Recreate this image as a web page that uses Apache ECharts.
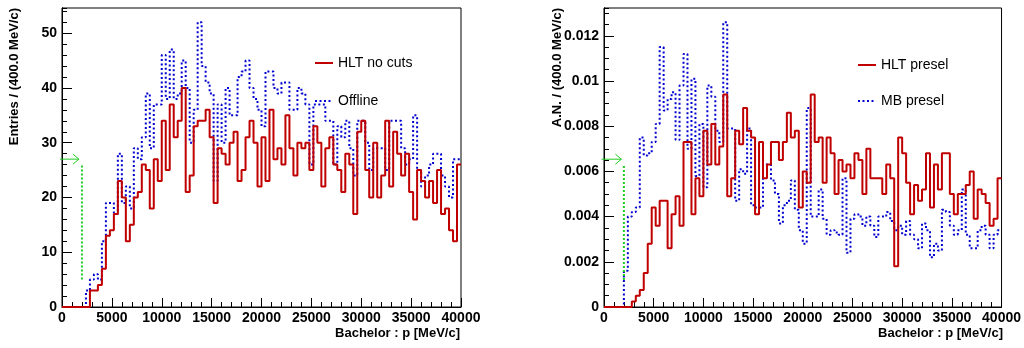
<!DOCTYPE html>
<html><head><meta charset="utf-8">
<script src="https://cdn.jsdelivr.net/npm/echarts@6/dist/echarts.min.js"></script>
<style>html,body{margin:0;padding:0;background:#fff}#c{width:1024px;height:348px}</style>
</head><body><div id="c"></div>
<script>
// ---- data (bin width 400 MeV/c, 100 bins from 0 to 40000) ----
const binWidth = 400;
const hltNoCuts = [0,0,0,0,0,0,0,3,3,4, 7,13,14,17,23,20,12,15,20,21, 26,25,18,27,23,34,25,37,31,34,
  40,21,24,33,34,34,36,31,19,29, 28,26,30,32,23,25,31,34,30,22, 31,23,36,27,29,26,35,29,24,30,
  29,30,25,33,30,22,29,31,26,25, 21,28,26,17,32,34,25,20,30,20, 24,34,22,32,28,24,28,21,16,25,
  23,20,23,19,25,17,18,14,12,26];
const offline = [0,0,0,0,0,0,3,5,6,5, 12,19,19,17,28,19,22,18,29,27, 31,39,29,37,37,46,38,47,38,39,
  45,40,30,36,52,44,41,39,23,37, 30,40,35,35,42,43,45,40,38,36, 33,43,43,40,39,41,41,36,36,40,
  39,37,26,37,37,37,34,34,26,33, 31,34,29,24,34,34,30,25,29,29, 29,25,34,34,34,29,26,27,35,25,
  22,24,26,28,28,24,22,20,27,27];
const hltPresel = [0,0,0,0,0,0,0,0.00024,0.0005,0.00075, 0.0015,0.0028,0.0044,0.0036,0.0047,0.0047,0.0026,0.0041,0.0049,0.0036,
  0.0073,0.0073,0.0041,0.0057,0.0049,0.0078,0.0063,0.0081,0.0063,0.0071, 0.0094,0.0049,0.0057,0.0078,0.0072,0.0088,0.0078,0.0075,0.0041,0.0073,
  0.0057,0.0063,0.0073,0.0073,0.0065,0.0073,0.0086,0.0075,0.0078,0.0044, 0.006,0.0055,0.0094,0.0073,0.0075,0.0055,0.0075,0.0068,0.005,0.0065,
  0.006,0.0063,0.0057,0.0068,0.0065,0.005,0.007,0.0057,0.0057,0.0057, 0.005,0.0063,0.0057,0.0018,0.0075,0.0068,0.0055,0.0041,0.0054,0.0047,
  0.0052,0.0068,0.0044,0.0063,0.0052,0.0068,0.0068,0.005,0.0041,0.005, 0.005,0.0054,0.006,0.0039,0.0052,0.005,0.0046,0.0036,0.0039,0.0057];
const mbPresel = [0,0,0,0,0,0.0016,0.004,0.0042,0.0044,0.0075, 0.0067,0.0068,0.0073,0.0081,0.0115,0.0087,0.0092,0.0095,0.0074,0.0098,
  0.0112,0.007,0.0101,0.0058,0.0081,0.0053,0.0098,0.0093,0.0078,0.0073, 0.0126,0.0079,0.0079,0.0047,0.0061,0.0059,0.0079,0.0045,0.0044,0.0044,
  0.0063,0.0063,0.0056,0.005,0.0037,0.0045,0.0047,0.0056,0.0043,0.0034, 0.0028,0.0088,0.004,0.004,0.0052,0.0039,0.0032,0.0034,0.0033,0.0032,
  0.0057,0.0024,0.0039,0.0041,0.004,0.0036,0.004,0.0036,0.0031,0.004, 0.004,0.0042,0.0038,0.0034,0.0036,0.0032,0.0038,0.0032,0.003,0.0026,
  0.0037,0.0034,0.0022,0.0028,0.0025,0.0043,0.0042,0.0036,0.0032,0.0034, 0.0052,0.0032,0.0026,0.0026,0.0034,0.0036,0.0032,0.0026,0.0032,0.0034];
// cut marker: [cut position, line bottom, line top, arrow level, arrow start, arrow tip]
const leftCut = [2000, 5, 26, 27, -200, 1700];
const rightCut = [2000, 0.0012, 0.0063, 0.00654, -250, 1750];
const xRange = [0, 40000];
const xMajor = 5000;
const leftYMax = 54.6, leftYMajor = 10, leftYMinor = 2;
const rightYMax = 0.01323, rightYMajor = 0.002, rightYMinor = 0.0005;
const seriesNames = ['HLT no cuts', 'Offline', 'HLT presel', 'MB presel'];
const xTitle = 'Bachelor : p [MeV/c]';
const leftYTitle = 'Entries / (400.0 MeV/c)';
const rightYTitle = 'A.N. / (400.0 MeV/c)';

// ---- helpers ----
function steps(vals) {
  const pts = vals.map((v, i) => [i * binWidth, v]);
  pts.push([vals.length * binWidth, vals[vals.length - 1]]);
  return pts;
}
const FONT = 'Liberation Sans, Arial, Helvetica, sans-serif';
const RED = '#c00000', BLUE = '#0000d0', GREEN = '#22cc22';
const tickLabel = { color: '#000', fontFamily: FONT, fontWeight: 'bold', fontSize: 14 };

function xAxis(gi) {
  return {
    gridIndex: gi, type: 'value', min: xRange[0], max: xRange[1], interval: xMajor,
    axisLine: { show: true, onZero: false, lineStyle: { color: '#000', width: 1 } },
    axisTick: { show: true, inside: true, length: 9, lineStyle: { color: '#000' } },
    minorTick: { show: true, splitNumber: 5, length: 5, lineStyle: { color: '#000' } },
    axisLabel: Object.assign({ margin: 4, formatter: v => String(v) }, tickLabel),
    splitLine: { show: false }
  };
}
function yAxes(gi, max, major, minor) {
  return [
    { gridIndex: gi, type: 'value', min: 0, max: max, interval: minor, position: 'left',
      axisLine: { show: true, onZero: false, lineStyle: { color: '#000' } },
      axisTick: { show: true, inside: true, length: 5, lineStyle: { color: '#000' } },
      axisLabel: { show: false }, splitLine: { show: false } },
    { gridIndex: gi, type: 'value', min: 0, max: max, interval: major, position: 'left', offset: 0,
      axisLine: { show: true, onZero: false, lineStyle: { color: '#000' } },
      axisTick: { show: true, inside: true, length: 10, lineStyle: { color: '#000' } },
      axisLabel: Object.assign({ margin: 5, showMaxLabel: false }, tickLabel),
      splitLine: { show: false } }
  ];
}
function histo(name, vals, gi, yi, color, dashed) {
  return {
    name: name, type: 'line', xAxisIndex: gi, yAxisIndex: yi, step: 'end',
    data: steps(vals), symbol: 'none', showSymbol: false, animation: false, silent: true,
    lineStyle: { color: color, width: 2, type: dashed ? [2, 2.5] : 'solid' },
    itemStyle: { color: color }, z: dashed ? 3 : 4
  };
}
function cutMarker(cut, gi, yi) {
  return {
    type: 'custom', xAxisIndex: gi, yAxisIndex: yi, clip: false, silent: true, animation: false,
    data: [cut], z: 5,
    renderItem: function (params, api) {
      const a = api.coord([api.value(0), api.value(1)]);
      const b = api.coord([api.value(0), api.value(2)]);
      const s = api.coord([api.value(4), api.value(3)]);
      const t = api.coord([api.value(5), api.value(3)]);
      return { type: 'group', children: [
        { type: 'line', shape: { x1: a[0], y1: a[1], x2: b[0], y2: b[1] },
          style: { stroke: GREEN, lineWidth: 2, lineDash: [2, 2] } },
        { type: 'line', shape: { x1: s[0], y1: s[1], x2: t[0], y2: t[1] },
          style: { stroke: GREEN, lineWidth: 1 } },
        { type: 'polyline', shape: { points: [[t[0] - 6, t[1] - 5], [t[0], t[1]], [t[0] - 6, t[1] + 5]] },
          style: { stroke: GREEN, lineWidth: 1, fill: null } }
      ] };
    }
  };
}
const legendText = { color: '#000', fontFamily: FONT, fontSize: 14 };
const legendBase = { orient: 'vertical', itemWidth: 18, itemHeight: 14, padding: 0, selectedMode: false,
  textStyle: legendText, itemStyle: { opacity: 0, borderWidth: 0 } };

const chart = echarts.init(document.getElementById('c'), null, { renderer: 'canvas' });
const yl = yAxes(0, leftYMax, leftYMajor, leftYMinor);
const yr = yAxes(1, rightYMax, rightYMajor, rightYMinor);
chart.setOption({
  backgroundColor: '#fff',
  animation: false,
  grid: [
    { left: 62, top: 8, width: 399, height: 299, show: true, borderColor: '#000', borderWidth: 1, backgroundColor: 'transparent' },
    { left: 604, top: 8, width: 399, height: 299, show: true, borderColor: '#000', borderWidth: 1, backgroundColor: 'transparent' }
  ],
  xAxis: [xAxis(0), xAxis(1)],
  yAxis: [yl[0], yl[1], yr[0], yr[1]],
  legend: [
    Object.assign({ data: [seriesNames[0], seriesNames[1]], left: 314, top: 56, itemGap: 24 }, legendBase),
    Object.assign({ data: [seriesNames[2], seriesNames[3]], left: 857, top: 58, itemGap: 22 }, legendBase)
  ],
  series: [
    histo(seriesNames[1], offline, 0, 1, BLUE, true),
    histo(seriesNames[0], hltNoCuts, 0, 1, RED, false),
    histo(seriesNames[3], mbPresel, 1, 3, BLUE, true),
    histo(seriesNames[2], hltPresel, 1, 3, RED, false),
    cutMarker(leftCut, 0, 1),
    cutMarker(rightCut, 1, 3)
  ],
  graphic: [
    { type: 'text', x: 14, y: 8, rotation: Math.PI / 2,
      style: { text: leftYTitle, align: 'right', verticalAlign: 'middle', fill: '#000', font: 'bold 13px ' + FONT } },
    { type: 'text', x: 557, y: 8, rotation: Math.PI / 2,
      style: { text: rightYTitle, align: 'right', verticalAlign: 'middle', fill: '#000', font: 'bold 13px ' + FONT } },
    { type: 'text', x: 460, y: 333,
      style: { text: xTitle, align: 'right', verticalAlign: 'middle', fill: '#000', font: 'bold 13px ' + FONT } },
    { type: 'text', x: 1003, y: 333,
      style: { text: xTitle, align: 'right', verticalAlign: 'middle', fill: '#000', font: 'bold 13px ' + FONT } }
  ]
});
</script>
</body></html>
